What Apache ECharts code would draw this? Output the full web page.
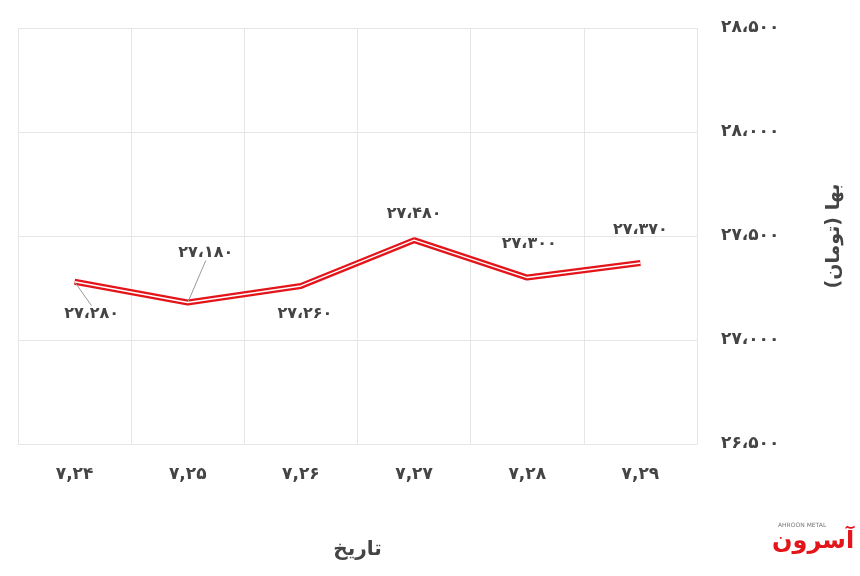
<!DOCTYPE html>
<html><head><meta charset="utf-8">
<script src="https://cdn.jsdelivr.net/npm/echarts@6/dist/echarts.min.js"></script>
<style>html,body{margin:0;padding:0;background:#fff}#c{width:860px;height:576px}</style>
</head><body><div id="c"></div>
<script>
const categories = ['7,24','7,25','7,26','7,27','7,28','7,29'];
const prices = [27280, 27180, 27260, 27480, 27300, 27370];
const labelOffsets = [[17,32],[18,-50],[4,28],[0,-26],[2,-34],[0,-33]];
const showLeader = [true, true, false, false, false, false];
const yTicks = {min: 26500, max: 28500, interval: 500};

const fa = s => String(s).replace(/\d/g, d => '۰۱۲۳۴۵۶۷۸۹'[d]);
const faNum = v => fa(String(v).replace(/\B(?=(\d{3})+(?!\d))/g, '،'));
const font = 'DejaVu Sans';
const chart = echarts.init(document.getElementById('c'));
chart.setOption({
  animation: false,
  textStyle: {fontFamily: font},
  grid: {left: 18, right: 163, top: 28, bottom: 132},
  xAxis: {type: 'category', data: categories, boundaryGap: true,
    axisLine: {show: true, lineStyle: {color: '#e6e6e6'}}, axisTick: {show: false},
    splitLine: {show: true, lineStyle: {color: '#e6e6e6'}},
    axisLabel: {formatter: v => fa(v), color: '#444', fontSize: 17, fontWeight: 'bold', margin: 22},
    name: 'تاریخ', nameLocation: 'middle', nameGap: 96,
    nameTextStyle: {fontSize: 20, color: '#444', fontWeight: 'bold'}},
  yAxis: {type: 'value', position: 'right', min: yTicks.min, max: yTicks.max, interval: yTicks.interval,
    axisLine: {show: false}, axisTick: {show: false},
    splitLine: {lineStyle: {color: '#e6e6e6'}},
    axisLabel: {formatter: v => faNum(v), color: '#444', fontSize: 17, fontWeight: 'bold', margin: 24},
    name: 'بها (تومان)', nameLocation: 'middle', nameGap: 128, nameRotate: 90,
    nameTextStyle: {fontSize: 19, color: '#444', fontWeight: 'bold'}},
  series: [
    {type: 'line', data: prices.map((v, i) => ({value: v, labelLine: {show: showLeader[i]}})),
     symbol: 'circle', symbolSize: 1, showSymbol: true,
     itemStyle: {color: 'rgba(0,0,0,0)'},
     lineStyle: {color: '#e3151a', width: 6}, z: 2,
     label: {show: true, formatter: p => faNum(p.value), color: '#444', fontSize: 16, fontWeight: 'bold', position: 'inside'},
     labelLayout: p => ({dx: labelOffsets[p.dataIndex][0], dy: labelOffsets[p.dataIndex][1]}),
     labelLine: {lineStyle: {color: '#999', width: 1}}},
    {type: 'line', data: prices, symbol: 'none', lineStyle: {color: '#fff', width: 1.5}, z: 3, silent: true}
  ],
  graphic: [
    {type: 'text', left: 772, top: 530, style: {text: 'آسرون', fill: '#e3151a', font: 'bold 24px ' + font}},
    {type: 'text', left: 778, top: 522, style: {text: 'AHROON METAL', fill: '#777', font: '6px ' + font}}
  ]
});
</script></body></html>
